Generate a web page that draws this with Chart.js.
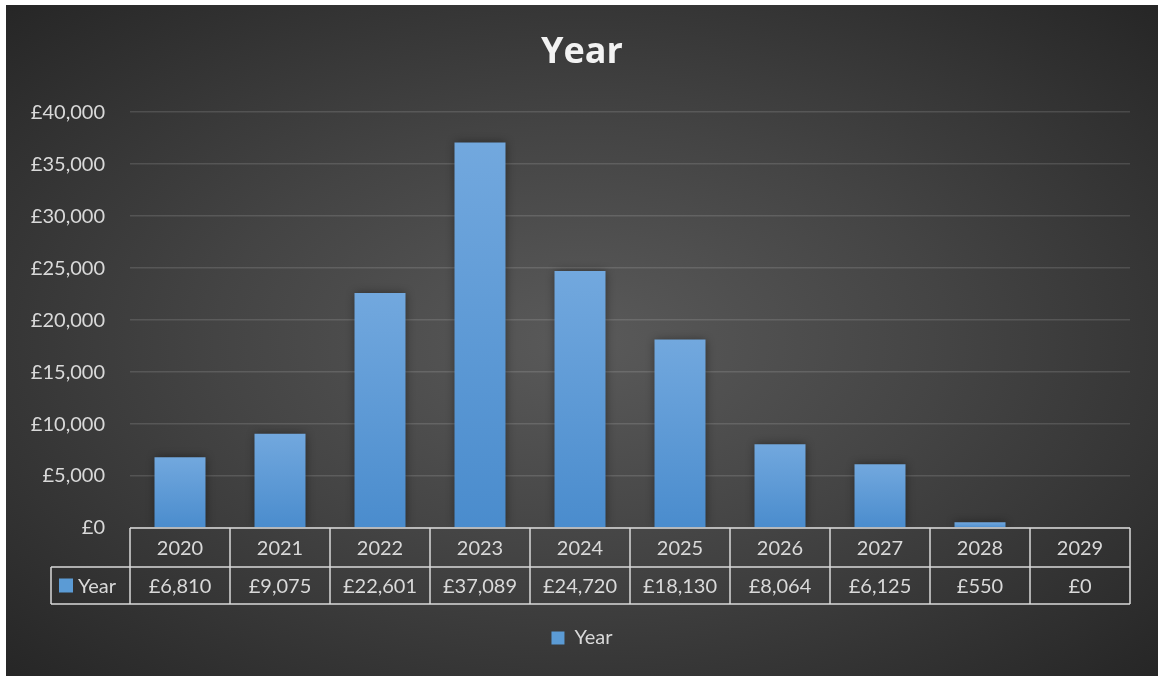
<!DOCTYPE html>
<html>
<head>
<meta charset="utf-8">
<script src="https://cdn.jsdelivr.net/npm/chart.js@4"></script>
<style>
  html, body { margin: 0; padding: 0; background: #ffffff; }
  #wrap {
    position: absolute;
    left: 6px; top: 5px;
    width: 1152px; height: 671px;
    background: radial-gradient(ellipse farthest-corner at 50% 50%, #5a5a5a 0%, #444444 45%, #262626 100%);
  }
</style>
</head>
<body>
<div id="wrap"><canvas id="myChart"></canvas></div>
<script>
const years = ['2020', '2021', '2022', '2023', '2024', '2025', '2026', '2027', '2028', '2029'];
const amounts = [6810, 9075, 22601, 37089, 24720, 18130, 8064, 6125, 550, 0];
const seriesName = 'Year';
const yMax = 40000;
const yStep = 5000;

const FONT = "Lato, 'Open Sans', sans-serif";
const TEXT = '#d9d9d9';
const BLUE = '#5b9bd5';

const money = v => '£' + Number(v).toLocaleString('en-GB');

// shadow behind the bars
const barShadow = {
    id: 'barShadow',
    beforeDatasetsDraw(chart) {
        const ctx = chart.ctx;
        ctx.save();
        ctx.shadowColor = 'rgba(0,0,0,0.45)';
        ctx.shadowBlur = 9;
    },
    afterDatasetsDraw(chart) {
        chart.ctx.restore();
    }
};

// data table under the plot
const dataTable = {
    id: 'dataTable',
    afterDraw(chart) {
        const {ctx, chartArea: a, scales: {x}} = chart;
        const top = a.bottom;
        const mid = top + 39;
        const bot = mid + 37;
        const half = (x.getPixelForValue(1) - x.getPixelForValue(0)) / 2;
        const legendLeft = 45;

        const line = (x1, y1, x2, y2) => {
            ctx.beginPath();
            ctx.moveTo(x1, y1);
            ctx.lineTo(x2, y2);
            ctx.stroke();
        };

        ctx.save();
        ctx.strokeStyle = 'rgba(217,217,217,0.75)';
        ctx.lineWidth = 2;
        line(a.left, top, a.right, top);
        line(legendLeft, mid, a.right, mid);
        line(legendLeft, bot, a.right, bot);
        line(legendLeft, mid, legendLeft, bot);
        years.forEach((yr, i) => {
            const l = x.getPixelForValue(i) - half;
            line(l, top, l, bot);
        });
        line(a.right, top, a.right, bot);

        ctx.fillStyle = TEXT;
        ctx.font = '20px ' + FONT;
        ctx.textAlign = 'center';
        ctx.textBaseline = 'middle';
        years.forEach((yr, i) => {
            const cx = x.getPixelForValue(i);
            ctx.fillText(yr, cx, (top + mid) / 2 + 1);
            ctx.fillText(money(amounts[i]), cx, (mid + bot) / 2 + 1);
        });

        // series key in the first column
        ctx.fillStyle = BLUE;
        ctx.fillRect(legendLeft + 8, (mid + bot) / 2 - 7, 14, 14);
        ctx.fillStyle = TEXT;
        ctx.textAlign = 'left';
        ctx.fillText(seriesName, legendLeft + 27, (mid + bot) / 2 + 1);
        ctx.restore();
    }
};

const ctx = document.getElementById('myChart').getContext('2d');

const myChart = new Chart(ctx, {
    type: 'bar',
    data: {
        labels: years,
        datasets: [{
            label: seriesName,
            data: amounts,
            backgroundColor: (c) => {
                const chart = c.chart;
                const a = chart.chartArea;
                if (c.type !== 'data' || !a) return BLUE;
                const yTop = chart.scales.y.getPixelForValue(c.raw);
                if (a.bottom - yTop < 2) return BLUE;
                const g = chart.ctx.createLinearGradient(0, yTop, 0, a.bottom);
                g.addColorStop(0, '#72a8de');
                g.addColorStop(1, '#4a8ccd');
                return g;
            },
            borderWidth: 0,
            categoryPercentage: 1,
            barPercentage: 0.51
        }]
    },
    options: {
        responsive: true,
        maintainAspectRatio: false,
        animation: false,
        layout: {
            padding: {left: 0, right: 0, top: 0, bottom: 18}
        },
        plugins: {
            title: {
                display: true,
                text: 'Year',
                color: '#f2f2f2',
                font: {size: 36, weight: 'bold', family: "'Open Sans', Lato, sans-serif"},
                padding: {top: 26, bottom: 38}
            },
            legend: {
                display: true,
                position: 'bottom',
                labels: {
                    color: TEXT,
                    boxWidth: 13,
                    boxHeight: 13,
                    padding: 10,
                    font: {size: 20, family: FONT},
                    generateLabels: (chart) => chart.data.datasets.map((ds, i) => ({
                        text: ds.label,
                        fillStyle: BLUE,
                        strokeStyle: BLUE,
                        lineWidth: 0,
                        fontColor: TEXT,
                        datasetIndex: i
                    }))
                }
            },
            tooltip: {enabled: false}
        },
        scales: {
            y: {
                min: 0,
                max: yMax,
                afterFit: (s) => { s.width = 124; },
                grid: {
                    color: 'rgba(255,255,255,0.13)',
                    lineWidth: 1.5,
                    drawTicks: false
                },
                border: {display: false},
                ticks: {
                    stepSize: yStep,
                    color: TEXT,
                    padding: 25,
                    font: {size: 20, family: FONT},
                    callback: (v) => money(v)
                }
            },
            // empty right margin so the title centres on the whole frame
            yRight: {
                position: 'right',
                display: true,
                afterFit: (s) => { s.width = 28; },
                grid: {display: false},
                border: {display: false},
                ticks: {display: false}
            },
            x: {
                afterFit: (s) => { s.height = 90; },
                grid: {display: false},
                border: {display: false},
                ticks: {display: false}
            }
        }
    },
    plugins: [barShadow, dataTable]
});
</script>
</body>
</html>
